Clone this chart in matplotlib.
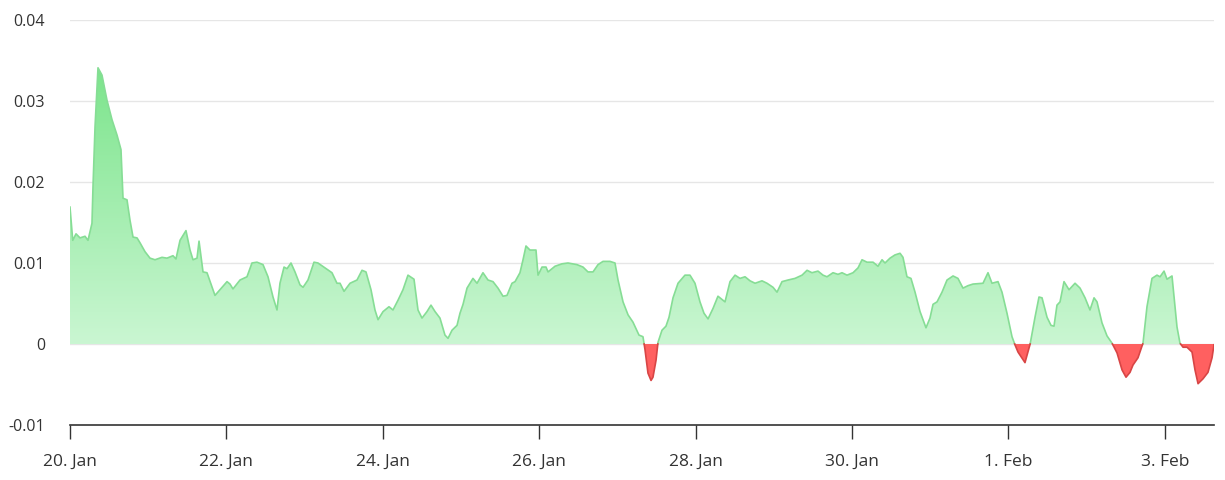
import numpy as np
import pandas as pd
import matplotlib
matplotlib.use("Agg")
import matplotlib.pyplot as plt
import matplotlib.dates as mdates

plt.rcParams['font.family'] = ['Open Sans', 'DejaVu Sans']

# time offsets in days from 20 Jan, and values
days = [0.00, 0.035, 0.077, 0.128, 0.192, 0.230, 0.281, 0.294, 0.320, 0.358,
        0.409, 0.473, 0.537, 0.601, 0.652, 0.678, 0.729, 0.767, 0.806, 0.857,
        0.895, 0.959, 1.023, 1.087, 1.176, 1.240, 1.317, 1.355, 1.407, 1.483,
        1.535, 1.573, 1.624, 1.650, 1.701, 1.752, 1.854, 1.918, 2.008, 2.046,
        2.084, 2.174, 2.263, 2.327, 2.391, 2.468, 2.532, 2.596, 2.647, 2.685,
        2.737, 2.775, 2.826, 2.877, 2.941, 2.980, 3.043, 3.120, 3.171, 3.261,
        3.350, 3.414, 3.453, 3.504, 3.581, 3.670, 3.734, 3.785, 3.849, 3.900,
        3.939, 4.003, 4.079, 4.130, 4.194, 4.258, 4.322, 4.399, 4.450, 4.501,
        4.565, 4.616, 4.668, 4.731, 4.795, 4.834, 4.885, 4.949, 4.987, 5.026,
        5.077, 5.153, 5.205, 5.281, 5.345, 5.409, 5.473, 5.537, 5.588, 5.652,
        5.691, 5.754, 5.793, 5.831, 5.882, 5.959, 5.985, 6.036, 6.087, 6.113,
        6.202, 6.292, 6.368, 6.483, 6.560, 6.624, 6.688, 6.752, 6.816, 6.905,
        6.969, 7.008, 7.072, 7.136, 7.199, 7.276, 7.327, 7.353, 7.391, 7.430,
        7.455, 7.494, 7.519, 7.570, 7.621, 7.660, 7.711, 7.775, 7.864, 7.928,
        7.992, 8.056, 8.107, 8.159, 8.223, 8.286, 8.376, 8.440, 8.504, 8.568,
        8.632, 8.696, 8.760, 8.849, 8.913, 8.990, 9.041, 9.105, 9.182, 9.271,
        9.361, 9.425, 9.488, 9.565, 9.629, 9.680, 9.757, 9.821, 9.872, 9.936,
        10.013, 10.077, 10.128, 10.192, 10.269, 10.332, 10.384, 10.422, 10.486, 10.550,
        10.614, 10.652, 10.703, 10.754, 10.806, 10.870, 10.946, 10.997, 11.036, 11.087,
        11.151, 11.215, 11.292, 11.355, 11.419, 11.483, 11.547, 11.675, 11.739, 11.790,
        11.867, 11.918, 11.982, 12.046, 12.084, 12.123, 12.212, 12.276, 12.340, 12.391,
        12.430, 12.494, 12.545, 12.583, 12.621, 12.660, 12.711, 12.775, 12.852, 12.916,
        12.980, 13.043, 13.095, 13.133, 13.197, 13.261, 13.325, 13.389, 13.453, 13.504,
        13.555, 13.593, 13.657, 13.721, 13.772, 13.836, 13.900, 13.939, 13.990, 14.028,
        14.092, 14.118, 14.156, 14.194, 14.233, 14.284, 14.348, 14.386, 14.425, 14.488,
        14.552, 14.604, 14.629]

values = [0.0169, 0.0128, 0.0136, 0.0131, 0.0133, 0.0128, 0.0149, 0.0194, 0.0268, 0.0341,
          0.0332, 0.0301, 0.0277, 0.0258, 0.0240, 0.0180, 0.0178, 0.0153, 0.0132, 0.0131,
          0.0125, 0.0114, 0.0106, 0.0104, 0.0107, 0.0106, 0.0109, 0.0105, 0.0128, 0.0140,
          0.0116, 0.0104, 0.0106, 0.0127, 0.0089, 0.0088, 0.0060, 0.0067, 0.0077, 0.0074,
          0.0068, 0.0079, 0.0083, 0.0100, 0.0101, 0.0098, 0.0083, 0.0058, 0.0042, 0.0075,
          0.0095, 0.0093, 0.0100, 0.0089, 0.0073, 0.0070, 0.0079, 0.0101, 0.0100, 0.0094,
          0.0088, 0.0075, 0.0075, 0.0065, 0.0075, 0.0079, 0.0091, 0.0089, 0.0067, 0.0042,
          0.0030, 0.0040, 0.0046, 0.0042, 0.0054, 0.0067, 0.0085, 0.0080, 0.0042, 0.0032,
          0.0040, 0.0048, 0.0040, 0.0032, 0.0011, 0.0007, 0.0017, 0.0023, 0.0038, 0.0049,
          0.0069, 0.0081, 0.0075, 0.0088, 0.0079, 0.0077, 0.0069, 0.0059, 0.0060, 0.0075,
          0.0077, 0.0088, 0.0104, 0.0121, 0.0116, 0.0116, 0.0085, 0.0095, 0.0095, 0.0089,
          0.0096, 0.0099, 0.0100, 0.0098, 0.0095, 0.0089, 0.0089, 0.0098, 0.0102, 0.0102,
          0.0100, 0.0079, 0.0052, 0.0036, 0.0027, 0.0011, 0.0009, -0.0007, -0.0036, -0.0045,
          -0.0041, -0.0020, 0.0002, 0.0017, 0.0022, 0.0033, 0.0057, 0.0075, 0.0085, 0.0085,
          0.0075, 0.0052, 0.0038, 0.0031, 0.0044, 0.0059, 0.0052, 0.0077, 0.0085, 0.0081,
          0.0083, 0.0078, 0.0075, 0.0078, 0.0075, 0.0070, 0.0064, 0.0077, 0.0079, 0.0081,
          0.0085, 0.0091, 0.0088, 0.0090, 0.0085, 0.0083, 0.0088, 0.0086, 0.0088, 0.0085,
          0.0088, 0.0094, 0.0104, 0.0101, 0.0101, 0.0096, 0.0104, 0.0100, 0.0106, 0.0110,
          0.0112, 0.0107, 0.0083, 0.0081, 0.0064, 0.0040, 0.0020, 0.0032, 0.0049, 0.0052,
          0.0064, 0.0079, 0.0084, 0.0081, 0.0069, 0.0072, 0.0074, 0.0075, 0.0088, 0.0075,
          0.0077, 0.0064, 0.0038, 0.0009, -0.0001, -0.0010, -0.0023, -0.0001, 0.0033, 0.0058,
          0.0057, 0.0033, 0.0023, 0.0022, 0.0048, 0.0052, 0.0077, 0.0067, 0.0075, 0.0069,
          0.0057, 0.0042, 0.0057, 0.0052, 0.0026, 0.0010, 0.0001, -0.0011, -0.0032, -0.0041,
          -0.0035, -0.0026, -0.0017, 0.0001, 0.0046, 0.0081, 0.0085, 0.0083, 0.0090, 0.0080,
          0.0084, 0.0058, 0.0021, 0.0001, -0.0004, -0.0004, -0.0010, -0.0032, -0.0049, -0.0043,
          -0.0035, -0.0017, -0.0001]

start = pd.Timestamp('2021-01-20')
tick_dates = pd.date_range('2021-01-20', '2021-02-03', freq='2D')

# add exact zero crossings so the two colours meet cleanly
d = np.array(days)
v = np.array(values)
xs, ys = [d[0]], [v[0]]
for i in range(1, len(d)):
    if v[i - 1] * v[i] < 0:
        t = v[i - 1] / (v[i - 1] - v[i])
        xs.append(d[i - 1] + t * (d[i] - d[i - 1]))
        ys.append(0.0)
    xs.append(d[i])
    ys.append(v[i])
xs = np.array(xs)
ys = np.array(ys)
x = mdates.date2num(start) + xs

fig = plt.figure(figsize=(12.25, 4.8), dpi=100)
ax = fig.add_axes([70 / 1225, 55 / 480, 1144 / 1225, 405 / 480])

# green part with vertical gradient
pos = np.clip(ys, 0, None)
poly = ax.fill_between(x, 0, pos, facecolor='none', edgecolor='none')
top_c = np.array([122, 228, 138]) / 255
bot_c = np.array([202, 246, 210]) / 255
grad = np.linspace(0, 1, 256)[:, None, None]
img = top_c * (1 - grad) + bot_c * grad
im = ax.imshow(img, extent=[x[0], x[-1], 0, 0.035], aspect='auto',
               origin='upper', zorder=1)
im.set_clip_path(poly.get_paths()[0], transform=ax.transData)

# red part
neg = np.clip(ys, None, 0)
ax.fill_between(x, neg, 0, facecolor='#ff6060', edgecolor='none', zorder=2)

line_pos = np.ma.masked_where(ys < 0, ys)
line_neg = np.ma.masked_where(ys > 0, ys)
ax.plot(x, line_pos, color='#86dd95', lw=1.2, zorder=3)
ax.plot(x, line_neg, color='#d84545', lw=1.2, zorder=3)

ax.set_xlim(x[0], x[-1])
ax.set_ylim(-0.01, 0.04)
ax.set_yticks([-0.01, 0, 0.01, 0.02, 0.03, 0.04])
ax.set_yticklabels(['-0.01', '0', '0.01', '0.02', '0.03', '0.04'])
ax.set_xticks(mdates.date2num(tick_dates))
ax.set_xticklabels([f"{t.day}. {t.strftime('%b')}" for t in tick_dates])

for yv in [0, 0.01, 0.02, 0.03, 0.04]:
    ax.axhline(yv, color='#e6e6e6', lw=1, zorder=0)

for s in ['top', 'right', 'left']:
    ax.spines[s].set_visible(False)
ax.spines['bottom'].set_color('#333333')
ax.spines['bottom'].set_linewidth(1.2)
ax.tick_params(axis='y', length=0, pad=18, labelsize=11.5, labelcolor='#333333')
ax.tick_params(axis='x', length=10, width=1, color='#333333', pad=11,
               labelsize=12.5, labelcolor='#333333')

fig.savefig('out.png', dpi=100)
